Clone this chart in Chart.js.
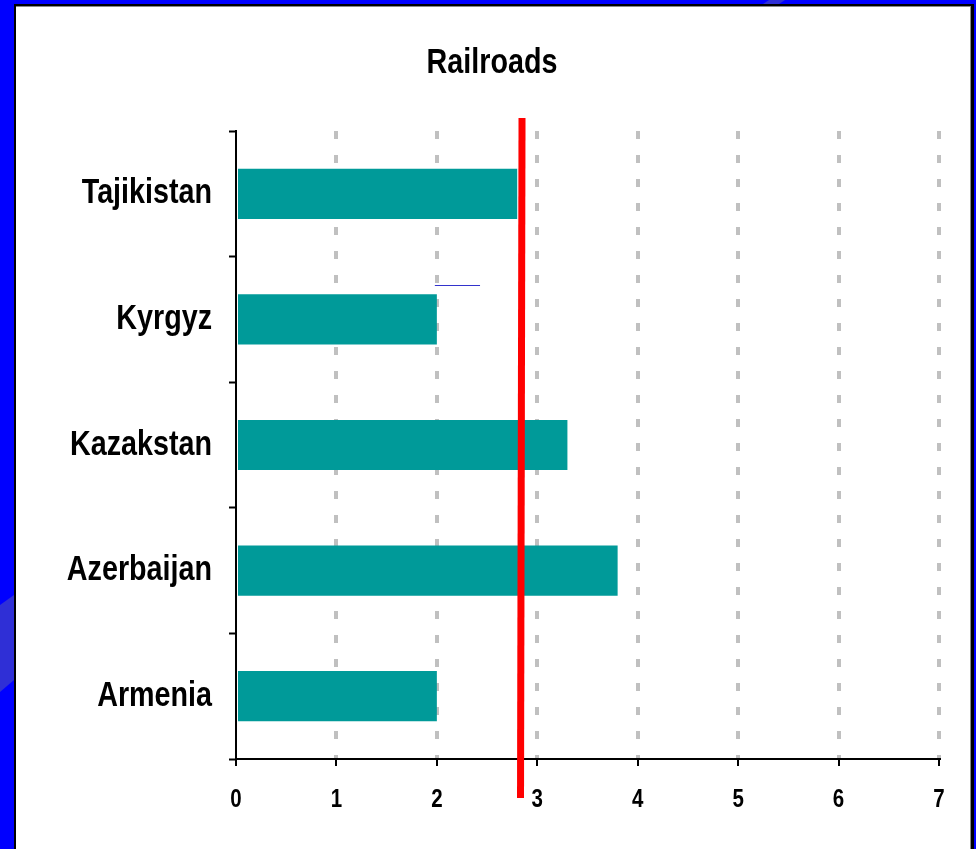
<!DOCTYPE html>
<html>
<head>
<meta charset="utf-8">
<title>Railroads</title>
<script src="https://cdn.jsdelivr.net/npm/chart.js@4.4.1/dist/chart.umd.min.js"></script>
<style>
    html, body { margin: 0; padding: 0; width: 976px; height: 849px; overflow: hidden; background: #0000ff; }
    #panel {
        position: absolute; left: 14px; top: 4px; width: 955px; height: 860px;
        background: #fff; border: 2px solid #000; border-right-width: 3px;
        box-shadow: inset -1px 1px 0 #888;
    }
    .shine { position: absolute; background: #2f2fd6; }
    #shine-left { left: 0; top: 590px; width: 14px; height: 104px; clip-path: polygon(0 15px, 14px 5px, 14px 90px, 0 102px); }
    #shine-top { left: 755px; top: 0; width: 30px; height: 4px; clip-path: polygon(8px 4px, 14px 0, 30px 0, 24px 4px); }
    #wrap { position: absolute; left: 0; top: 0; width: 976px; height: 849px; }
</style>
</head>
<body>
<div id="shine-left" class="shine"></div>
<div id="shine-top" class="shine"></div>
<div id="panel"></div>
<div id="wrap"><canvas id="chart"></canvas></div>
<script>
var countries = ['Tajikistan', 'Kyrgyz', 'Kazakstan', 'Azerbaijan', 'Armenia'];
var railroads = [2.8, 2.0, 3.3, 3.8, 2.0];
var xTicks = [0, 1, 2, 3, 4, 5, 6, 7];
// red marker line, value at top and at bottom (it leans a little)
var markerLine = [2.848, 2.833];
// stray short line in the Kyrgyz row: x from, x to, row position
var strayLine = [1.98, 2.43, 0.73];

// no Arial Narrow here, so squeeze Liberation Sans horizontally
var fontFamily = '"Liberation Sans", Arial, sans-serif';
var narrow = 0.82;

var narrowTextPlugin = {
    id: 'narrowText',
    beforeDraw: function(chart) {
        var ctx = chart.ctx;
        if (ctx._narrowPatched) return;
        var fillText = ctx.fillText;
        ctx.fillText = function(text, x, y, maxWidth) {
            this.save();
            this.translate(x, y);
            this.scale(narrow, 1);
            fillText.call(this, text, 0, 0);
            this.restore();
        };
        ctx._narrowPatched = true;
    }
};

var markerPlugin = {
    id: 'marker',
    afterDraw: function(chart) {
        var ctx = chart.ctx;
        var x = chart.scales.x;
        var y = chart.scales.y;
        var area = chart.chartArea;

        ctx.save();
        // thin stray line
        ctx.strokeStyle = '#3333cc';
        ctx.lineWidth = 1;
        var sy = Math.round(y.getPixelForValue(strayLine[2])) + 0.5;
        ctx.beginPath();
        ctx.moveTo(x.getPixelForValue(strayLine[0]), sy);
        ctx.lineTo(x.getPixelForValue(strayLine[1]), sy);
        ctx.stroke();

        // thick red line, runs past the plot at both ends
        ctx.strokeStyle = '#ff0000';
        ctx.lineWidth = 7;
        ctx.beginPath();
        ctx.moveTo(x.getPixelForValue(markerLine[0]), area.top - 13);
        ctx.lineTo(x.getPixelForValue(markerLine[1]), area.bottom + 39);
        ctx.stroke();
        ctx.restore();
    }
};

var ctx = document.getElementById('chart').getContext('2d');
var chart = new Chart(ctx, {
    type: 'bar',
    data: {
        labels: countries,
        datasets: [{
            data: railroads,
            backgroundColor: '#009a99',
            borderWidth: 0,
            barPercentage: 0.4,
            categoryPercentage: 1.0
        }]
    },
    options: {
        indexAxis: 'y',
        responsive: true,
        maintainAspectRatio: false,
        animation: false,
        layout: { padding: { left: 45, right: 37, top: 0, bottom: 0 } },
        plugins: {
            legend: { display: false },
            tooltip: { enabled: false },
            title: {
                display: true,
                text: 'Railroads',
                color: '#000',
                font: { family: fontFamily, size: 35, weight: 'bold', lineHeight: 1.2 },
                padding: { top: 42, bottom: 47 }
            }
        },
        scales: {
            x: {
                min: xTicks[0],
                max: xTicks[xTicks.length - 1],
                afterFit: function(scale) { scale.height = 90; },
                afterBuildTicks: function(scale) {
                    scale.ticks = xTicks.map(function(v) { return { value: v }; });
                },
                grid: {
                    color: function(c) { return c.tick && c.tick.value === 0 ? 'rgba(0,0,0,0)' : '#c0c0c0'; },
                    lineWidth: 4,
                    tickColor: '#000',
                    tickWidth: 2,
                    tickLength: 7
                },
                border: { display: true, color: '#000', width: 2, dash: [8, 16] },
                ticks: {
                    color: '#000',
                    padding: 19,
                    font: { family: fontFamily, size: 25, weight: 'bold' }
                }
            },
            y: {
                afterFit: function(scale) { scale.width = 191; },
                grid: {
                    drawOnChartArea: false,
                    tickColor: '#000',
                    tickWidth: 2,
                    tickLength: 7
                },
                border: { display: true, color: '#000', width: 2 },
                ticks: {
                    color: '#000',
                    padding: 17,
                    font: { family: fontFamily, size: 35, weight: 'bold' }
                }
            }
        }
    },
    plugins: [narrowTextPlugin, markerPlugin]
});
</script>
</body>
</html>
